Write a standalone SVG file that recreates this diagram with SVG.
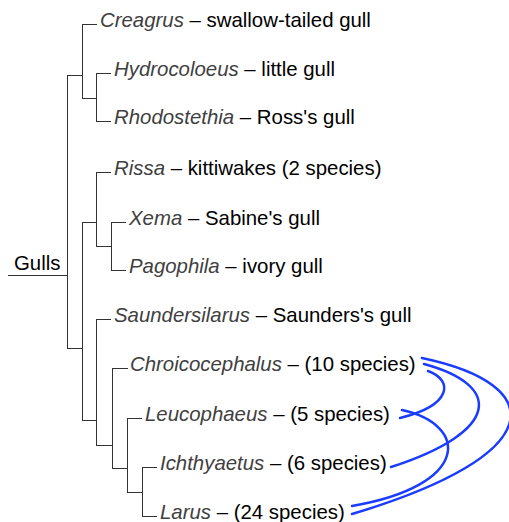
<svg xmlns="http://www.w3.org/2000/svg" width="509" height="522" viewBox="0 0 509 522">
<style>
.t{font-family:"Liberation Sans",Arial,sans-serif;font-size:20.4px;fill:#000}
.g{font-style:italic;fill:#404040}
.br{fill:none;stroke:#333;stroke-width:1}
.arc{fill:none;stroke:#1a3cff;stroke-width:2.5;stroke-linecap:round}
</style>
<rect width="509" height="522" fill="#fff"/>
<g id="connectors">
<path class="br" d="M8,275.5H67.5M67.5,75V348.5M67,75.5H82.5M67,348.5H82.5"/>
<path class="br" d="M82.5,24V98.5M82,24.5H97M82,98.5H96.5M96.5,73V121.5M96,73.5H111M96,121.5H111"/>
<path class="br" d="M82.5,222V420.5M82,222.5H96.5M96.5,172V246.5M96,172.5H111M96,246.5H111.5M111.5,222V270.5M111,222.5H126M111,270.5H126"/>
<path class="br" d="M82,420.5H96.5M96.5,319V445.5M96,319.5H111M96,445.5H112.5M112.5,368V468.5M112,368.5H128M112,468.5H127.5M127.5,418V492.5M127,418.5H142M127,492.5H142.5M142.5,467V516.5M142,467.5H157M142,516.5H157"/>
<path class="arc" d="M422,358C550,385 550,455 352,514"/>
<path class="arc" d="M424,364C502,385 502,431 391,467"/>
<path class="arc" d="M428,371C453,380 453,405 400,418"/>
<path class="arc" d="M402,410C470,425 470,486 352,506"/>
</g>
<g id="gulls"><text class="t" x="14" y="270">Gulls</text></g>
<g id="creagrus"><text class="t" x="100" y="27"><tspan class="g">Creagrus</tspan> – swallow-tailed gull</text></g>
<g id="hydrocoloeus"><text class="t" x="114" y="76"><tspan class="g">Hydrocoloeus</tspan> – little gull</text></g>
<g id="rhodostethia"><text class="t" x="114" y="124"><tspan class="g">Rhodostethia</tspan> – Ross's gull</text></g>
<g id="rissa"><text class="t" x="114" y="175"><tspan class="g">Rissa</tspan> – kittiwakes (2 species)</text></g>
<g id="xema"><text class="t" x="129" y="225"><tspan class="g">Xema</tspan> – Sabine's gull</text></g>
<g id="pagophila"><text class="t" x="129" y="273"><tspan class="g">Pagophila</tspan> – ivory gull</text></g>
<g id="saundersilarus"><text class="t" x="114" y="322"><tspan class="g">Saundersilarus</tspan> – Saunders's gull</text></g>
<g id="chroicocephalus"><text class="t" x="130" y="371"><tspan class="g">Chroicocephalus</tspan> – (10 species)</text></g>
<g id="leucophaeus"><text class="t" x="145" y="421"><tspan class="g">Leucophaeus</tspan> – (5 species)</text></g>
<g id="ichthyaetus"><text class="t" x="160" y="470"><tspan class="g">Ichthyaetus</tspan> – (6 species)</text></g>
<g id="larus"><text class="t" x="160" y="519"><tspan class="g">Larus</tspan> – (24 species)</text></g>
</svg>
